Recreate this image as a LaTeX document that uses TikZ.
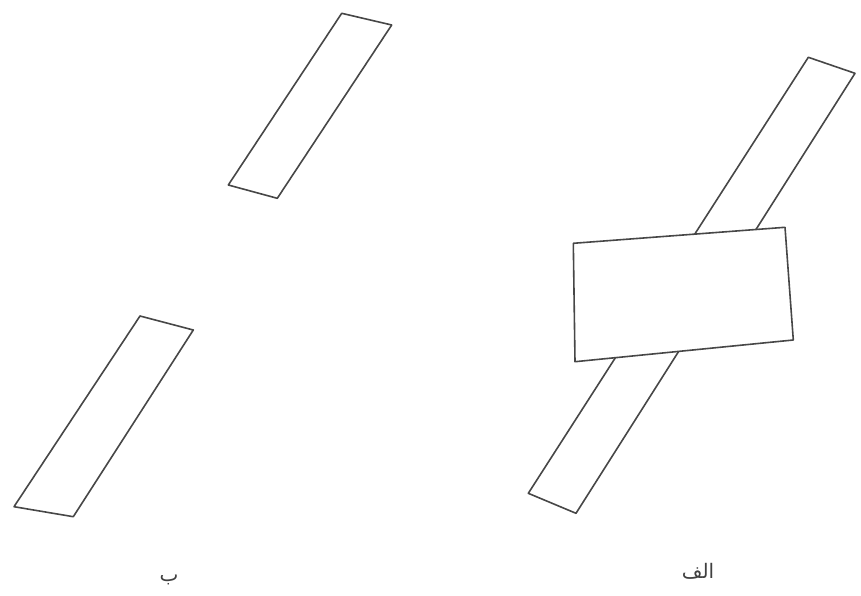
\documentclass[tikz,border=0pt]{standalone}
\usepackage{fontspec}
\newfontfamily\arabicfont[Script=Arabic]{DejaVu Sans}
\TeXXeTstate=1
\begin{document}
\begin{tikzpicture}[x=1pt,y=-1pt,
  sketch/.style={draw=black!72, line width=1.6pt, line join=round},
  lbl/.style={font=\arabicfont\fontsize{20}{24}\selectfont, text=black!75}]
\useasboundingbox (0,0) rectangle (861,596);
% panel b
\draw[sketch] (341.7,13.3) -- (391.7,25) -- (277.3,198.3) -- (228.3,185) -- cycle;
\draw[sketch] (140,316) -- (193.3,330) -- (73.3,516.7) -- (14,506.7) -- cycle;
% panel alef
\draw[sketch] (808.3,57.3) -- (855,73.3) -- (576,513.3) -- (528.3,493.3) -- cycle;
\filldraw[sketch, fill=white] (573.3,243.3) -- (785,227.3) -- (793.3,340) -- (575,361.7) -- cycle;
% labels
\node[lbl] (lb) at (169,580) {\beginR ب\endR};
\node[lbl] (la) at (698,571) {\beginR الف\endR};
\end{tikzpicture}
\end{document}
